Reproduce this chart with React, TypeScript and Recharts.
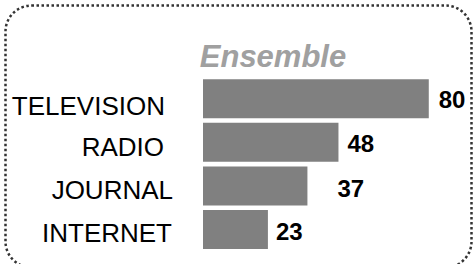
import React from 'react';
import { BarChart, Bar, XAxis, YAxis, LabelList } from 'recharts';

const categories = ['TELEVISION', 'RADIO', 'JOURNAL', 'INTERNET'];
const values = [80, 48, 37, 23];
const title = 'Ensemble';

const data = categories.map((name, i) => ({ name, value: values[i] }));

const FONT = "'Liberation Sans', Arial, sans-serif";

// small per-label placement tweaks (style only)
const labelDx: Record<string, number> = { TELEVISION: 10, RADIO: 9, JOURNAL: 30, INTERNET: 8 };
const labelDy: Record<string, number> = { TELEVISION: 1, RADIO: 1, JOURNAL: 3, INTERNET: 2 };
const tickEnd: Record<string, number> = { TELEVISION: 165, RADIO: 164, JOURNAL: 173, INTERNET: 172 };
const tickDy: Record<string, number> = { TELEVISION: 7, RADIO: 5, JOURNAL: 4, INTERNET: 3.5 };

const ValueLabel = (props: any) => {
  const { x, y, width, height, value, index } = props;
  const name = categories[index];
  return (
    <text
      x={x + width + (labelDx[name] ?? 10)}
      y={y + height / 2 + (labelDy[name] ?? 0)}
      dominantBaseline="central"
      textAnchor="start"
      fontFamily={FONT}
      fontWeight="bold"
      fontSize={24}
      fill="#000"
    >
      {value}
    </text>
  );
};

const CategoryTick = (props: any) => {
  const { y, payload } = props;
  const name = payload.value as string;
  return (
    <text
      x={tickEnd[name] ?? 168}
      y={y + (tickDy[name] ?? 4)}
      dominantBaseline="central"
      textAnchor="end"
      fontFamily={FONT}
      fontSize={26}
      fill="#000"
    >
      {name}
    </text>
  );
};

export default function App() {
  return (
    <div style={{ position: 'absolute', left: 0, top: 0, width: 473, height: 264, background: '#fff', overflow: 'hidden' }}>
      <svg width={473} height={264} style={{ position: 'absolute', left: 0, top: 0 }}>
        <rect x={5.5} y={5.5} width={466} height={262} rx={26} ry={26} fill="none" stroke="#333" strokeWidth={2.5} strokeDasharray="2.5 2.5" />
        <text
          x={273}
          y={67}
          textAnchor="middle"
          fontFamily={FONT}
          fontWeight="bold"
          fontStyle="italic"
          fontSize={31}
          fill="#a0a0a0"
        >
          {title}
        </text>
      </svg>
      <div style={{ position: 'absolute', left: 0, top: 0 }}>
        <BarChart
          width={473}
          height={264}
          data={data}
          layout="vertical"
          margin={{ top: 77, right: 16, bottom: 12.5, left: 0 }}
          barCategoryGap="5%"
        >
          <XAxis type="number" domain={[0, 90]} hide />
          <YAxis
            type="category"
            dataKey="name"
            width={203}
            axisLine={false}
            tickLine={false}
            tickSize={0}
            tickMargin={33}
            interval={0}
            tick={<CategoryTick />}
          />
          <Bar dataKey="value" fill="#808080" isAnimationActive={false}>
            <LabelList dataKey="value" content={ValueLabel} />
          </Bar>
        </BarChart>
      </div>
    </div>
  );
}
